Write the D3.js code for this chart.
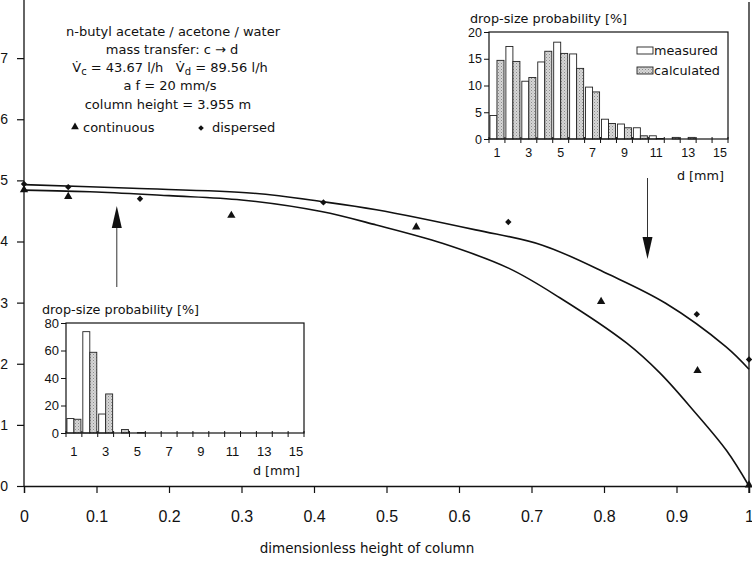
<!DOCTYPE html>
<html>
<head>
<meta charset="utf-8">
<script src="https://cdn.jsdelivr.net/npm/d3@7"></script>
<style>
body { margin: 0; background: #fff; }
svg text { font-family: "DejaVu Sans", sans-serif; fill: #111; }
</style>
</head>
<body>
<script>
// main chart data (hold-up profile along column)
var contX = [0, 0.061, 0.286, 0.541, 0.796, 0.929, 1];
var contY = [4.83, 4.72, 4.41, 4.22, 3.0, 1.87, 0];
var dispX = [0, 0.061, 0.16, 0.413, 0.668, 0.928, 1];
var dispY = [4.94, 4.89, 4.70, 4.64, 4.32, 2.81, 2.07];

// calculated curves
var calcContX = [0, 0.1, 0.2, 0.3, 0.41, 0.486, 0.577, 0.669, 0.739, 0.831, 0.877, 0.923, 0.969, 1];
var calcContY = [4.84, 4.81, 4.75, 4.68, 4.49, 4.27, 3.97, 3.56, 3.08, 2.34, 1.85, 1.24, 0.58, 0];
var calcDispX = [0, 0.15, 0.316, 0.413, 0.486, 0.623, 0.715, 0.807, 0.885, 0.968, 1];
var calcDispY = [4.93, 4.87, 4.79, 4.65, 4.52, 4.19, 3.94, 3.46, 2.99, 2.28, 1.91];

var xTicks = [0, 0.1, 0.2, 0.3, 0.4, 0.5, 0.6, 0.7, 0.8, 0.9, 1];
var yTicks = [0, 1, 2, 3, 4, 5, 6, 7];

// drop-size distributions, classes 1..15 mm
var sizeClasses = d3.range(1, 16);
var bottomMeasured = [10.5, 73.7, 13.8, 0, 0, 0, 0, 0, 0, 0, 0, 0, 0, 0, 0];
var bottomCalculated = [10, 58.7, 28.4, 2.5, 0.3, 0, 0, 0, 0, 0, 0, 0, 0, 0, 0];
var topMeasured = [4.4, 17.3, 10.8, 14.4, 18.1, 15.9, 9.7, 3.7, 2.8, 2.1, 0.6, 0, 0, 0, 0];
var topCalculated = [14.7, 14.5, 11.5, 16.4, 16.0, 13.2, 8.8, 2.9, 2.1, 0.6, 0.1, 0.3, 0.3, 0, 0];
var insetLabels = [1, 3, 5, 7, 9, 11, 13, 15];

var svg = d3.select("body").append("svg").attr("width", 752).attr("height", 562);

var defs = svg.append("defs");
var pat = defs.append("pattern").attr("id", "dots").attr("patternUnits", "userSpaceOnUse")
	.attr("width", 3).attr("height", 3);
pat.append("rect").attr("width", 3).attr("height", 3).attr("fill", "#d6d6d6");
pat.append("rect").attr("width", 1).attr("height", 1).attr("fill", "#8c8c8c");
pat.append("rect").attr("x", 1.5).attr("y", 1.5).attr("width", 1).attr("height", 1).attr("fill", "#a8a8a8");

var x = d3.scaleLinear().domain([0, 1]).range([24, 749]);
var y = d3.scaleLinear().domain([0, 8]).range([486, -3]);

// axes
var xAxis = svg.append("g").attr("transform", "translate(0,486)")
	.call(d3.axisBottom(x).tickValues(xTicks).tickSize(7).tickPadding(18)
		.tickFormat(function (d) { return d === 0 || d === 1 ? String(d) : d3.format(".1f")(d); }));
var yAxis = svg.append("g").attr("transform", "translate(24,0)")
	.call(d3.axisLeft(y).tickValues(yTicks).tickSize(7).tickPadding(9));
[xAxis, yAxis].forEach(function (g) {
	g.select(".domain").attr("stroke", "#111").attr("stroke-width", 1.3);
	g.selectAll(".tick line").attr("stroke", "#111").attr("stroke-width", 1.2);
	g.selectAll("text").style("font-family", "'Liberation Sans', Arial, sans-serif")
		.style("font-size", "14px").attr("fill", "#111");
});
xAxis.selectAll("text").style("font-size", "16px");
yAxis.select(".domain").attr("d", "M0,0V486");

// right border
svg.append("line").attr("x1", x(1)).attr("x2", x(1)).attr("y1", 2).attr("y2", 493)
	.attr("stroke", "#111").attr("stroke-width", 1.3);

svg.append("text").attr("x", 367).attr("y", 553).attr("text-anchor", "middle")
	.style("font-size", "13.5px").text("dimensionless height of column");

// calculated curves
var line = d3.line().x(function (d) { return x(d[0]); }).y(function (d) { return y(d[1]); })
	.curve(d3.curveCatmullRom.alpha(0.5));
svg.append("path").datum(d3.zip(calcDispX, calcDispY)).attr("d", line)
	.attr("fill", "none").attr("stroke", "#111").attr("stroke-width", 1.6);
svg.append("path").datum(d3.zip(calcContX, calcContY)).attr("d", line)
	.attr("fill", "none").attr("stroke", "#111").attr("stroke-width", 1.6);

// measured points
svg.append("g").selectAll("path").data(d3.zip(contX, contY)).enter().append("path")
	.attr("transform", function (d) { return "translate(" + x(d[0]) + "," + (y(d[1]) - 1) + ")"; })
	.attr("d", d3.symbol(d3.symbolTriangle, 30)).attr("fill", "#111");
svg.append("g").selectAll("path").data(d3.zip(dispX, dispY)).enter().append("path")
	.attr("transform", function (d) { return "translate(" + x(d[0]) + "," + y(d[1]) + ")"; })
	.attr("d", d3.symbol(d3.symbolDiamond2, 26)).attr("fill", "#111");

// arrows
function arrow(xv, yFrom, yTo) {
	var dir = yTo < yFrom ? 1 : -1;
	svg.append("line").attr("x1", x(xv)).attr("x2", x(xv)).attr("y1", yFrom).attr("y2", yTo + dir * 18)
		.attr("stroke", "#333").attr("stroke-width", 1);
	svg.append("path")
		.attr("d", "M" + x(xv) + "," + yTo + "L" + (x(xv) - 5) + "," + (yTo + dir * 22) +
			"L" + (x(xv) + 5) + "," + (yTo + dir * 22) + "Z")
		.attr("fill", "#111");
}
arrow(0.128, 287, 206);
arrow(0.86, 178, 259);

// annotation block
var note = svg.append("g").attr("text-anchor", "middle").style("font-size", "13px");
note.append("text").attr("x", 173).attr("y", 36).text("n-butyl acetate / acetone / water");
note.append("text").attr("x", 172).attr("y", 54).text("mass transfer: c \u2192 d");
var vt = note.append("text").attr("x", 170).attr("y", 72);
vt.append("tspan").text("V\u0307");
vt.append("tspan").attr("dy", 3).style("font-size", "10px").text("c");
vt.append("tspan").attr("dy", -3).text(" = 43.67 l/h\u00a0\u00a0\u00a0V\u0307");
vt.append("tspan").attr("dy", 3).style("font-size", "10px").text("d");
vt.append("tspan").attr("dy", -3).text(" = 89.56 l/h");
note.append("text").attr("x", 170).attr("y", 90).text("a f = 20 mm/s");
note.append("text").attr("x", 168).attr("y", 109).text("column height = 3.955 m");
svg.append("path").attr("transform", "translate(75,127)").attr("d", d3.symbol(d3.symbolTriangle, 26)).attr("fill", "#111");
svg.append("text").attr("x", 83).attr("y", 132).style("font-size", "13px").text("continuous");
svg.append("path").attr("transform", "translate(201,128)").attr("d", d3.symbol(d3.symbolDiamond2, 20)).attr("fill", "#111");
svg.append("text").attr("x", 212).attr("y", 132).style("font-size", "13px").text("dispersed");

// inset histogram
function inset(box, yMax, yStep, measured, calculated, fontSize, legend) {
	var g = svg.append("g");
	var bx = d3.scaleBand().domain(sizeClasses).range([box.x0, box.x1]).paddingInner(0).paddingOuter(0);
	var by = d3.scaleLinear().domain([0, yMax]).range([box.y1, box.y0]);
	var half = bx.bandwidth() * 0.44;

	g.append("rect").attr("x", box.x0).attr("y", box.y0).attr("width", box.x1 - box.x0)
		.attr("height", box.y1 - box.y0).attr("fill", "#fff");

	g.append("g").selectAll("rect").data(measured).enter().append("rect")
		.attr("x", function (d, i) { return bx(sizeClasses[i]) + bx.bandwidth() / 2 - half; })
		.attr("y", function (d) { return by(d); })
		.attr("width", half).attr("height", function (d) { return box.y1 - by(d); })
		.attr("fill", "#fff").attr("stroke", function (d) { return d > 0 ? "#222" : "none"; }).attr("stroke-width", 0.9);
	g.append("g").selectAll("rect").data(calculated).enter().append("rect")
		.attr("x", function (d, i) { return bx(sizeClasses[i]) + bx.bandwidth() / 2; })
		.attr("y", function (d) { return by(d); })
		.attr("width", half).attr("height", function (d) { return box.y1 - by(d); })
		.attr("fill", "url(#dots)").attr("stroke", function (d) { return d > 0 ? "#222" : "none"; }).attr("stroke-width", 0.9);

	g.append("rect").attr("x", box.x0).attr("y", box.y0).attr("width", box.x1 - box.x0)
		.attr("height", box.y1 - box.y0).attr("fill", "none").attr("stroke", "#111").attr("stroke-width", 1.2);

	// band boundary ticks
	g.append("g").selectAll("line").data(d3.range(0, 16)).enter().append("line")
		.attr("x1", function (i) { return box.x0 + i * bx.step(); })
		.attr("x2", function (i) { return box.x0 + i * bx.step(); })
		.attr("y1", box.y1 - 2).attr("y2", box.y1 + 4).attr("stroke", "#111").attr("stroke-width", 1);

	var xa = g.append("g").attr("transform", "translate(0," + box.y1 + ")")
		.call(d3.axisBottom(bx).tickValues(insetLabels).tickSize(0).tickPadding(box.xPad));
	xa.select(".domain").remove();
	var ya = g.append("g").attr("transform", "translate(" + box.x0 + ",0)")
		.call(d3.axisLeft(by).tickValues(d3.range(0, yMax + 1, yStep)).tickSize(5).tickPadding(2));
	ya.select(".domain").remove();
	ya.selectAll(".tick line").attr("stroke", "#111");
	[xa, ya].forEach(function (a) {
		a.selectAll("text").style("font-family", "'Liberation Sans', Arial, sans-serif")
			.style("font-size", fontSize + "px").attr("fill", "#111");
	});

	g.append("text").attr("x", box.titleX).attr("y", box.y0 - 9).style("font-size", "12.8px")
		.text("drop-size probability [%]");
	g.append("text").attr("x", box.x1 - 4).attr("y", box.dY).attr("text-anchor", "end")
		.style("font-size", "12.8px").text("d [mm]");

	if (legend) {
		var lg = g.append("g");
		[["measured", "#fff", 47], ["calculated", "url(#dots)", 67]].forEach(function (it) {
			lg.append("rect").attr("x", box.x1 - 91).attr("y", it[2]).attr("width", 16).attr("height", 7)
				.attr("fill", it[1]).attr("stroke", "#222").attr("stroke-width", 0.9);
			lg.append("text").attr("x", box.x1 - 74).attr("y", it[2] + 8).style("font-size", "12.8px").text(it[0]);
		});
	}
}

inset({ x0: 66, x1: 304, y0: 323, y1: 433, xPad: 14, titleX: 42, dY: 475 }, 80, 20,
	bottomMeasured, bottomCalculated, 13, false);
inset({ x0: 489, x1: 728, y0: 32, y1: 139, xPad: 9, titleX: 470, dY: 180 }, 20, 5,
	topMeasured, topCalculated, 12.5, true);
</script>
</body>
</html>
